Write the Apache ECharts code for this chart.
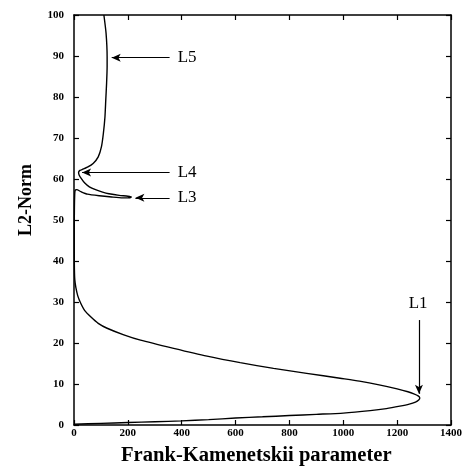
<!DOCTYPE html>
<html>
<head>
<meta charset="utf-8">
<script src="https://cdn.jsdelivr.net/npm/echarts@6/dist/echarts.min.js"></script>
<style>
  html, body { margin: 0; padding: 0; background: #fff; }
  #chart { width: 465px; height: 469px; }
</style>
</head>
<body>
<div id="chart"></div>
<script>
// Solution branch of the steady-state problem: Frank-Kamenetskii parameter vs. L2-norm
const fkParam = [
  0, 100, 200, 300, 400, 500, 600, 700, 800, 900, 1000, 1100, 1160, 1210, 1245, 1268, 1280, 1284,
  1278, 1262, 1240, 1200, 1133, 1060, 988, 864, 741, 617, 494, 370, 247, 185,
  123, 90, 62, 40, 25, 14, 7, 3, 1.5, 1, 1, 1.5, 2.5, 4,
  10, 26, 50, 94, 140, 180, 205, 213,
  200, 168, 130, 106, 80, 57, 40, 26, 19, 17,
  22, 30, 50, 71, 90, 102, 109, 115, 118, 121, 123, 123, 119, 111
];
const l2Norm = [
  0.2, 0.4, 0.6, 0.8, 1.0, 1.3, 1.7, 2.0, 2.3, 2.6, 2.9, 3.5, 4.0, 4.6, 5.1, 5.6, 6.1, 6.6,
  7.1, 7.6, 8.1, 8.8, 9.8, 10.7, 11.4, 12.6, 13.8, 15.2, 16.8, 18.7, 20.7, 22.0,
  23.6, 24.8, 26.4, 27.9, 29.7, 31.5, 33.5, 35.4, 38.0, 42.0, 48.0, 53.0, 56.0, 57.2,
  57.4, 56.9, 56.3, 55.9, 55.6, 55.4, 55.4, 55.6,
  55.8, 56.0, 56.4, 56.8, 57.4, 58.1, 59.0, 60.2, 61.0, 61.6,
  62.1, 62.3, 62.9, 63.8, 65.4, 67.9, 71.1, 75.2, 79.3, 83.3, 87.4, 89.8, 95.6, 100
];

// Turning-point annotations: label, arrow tail and arrow head (data coordinates)
const pointNames = ['L1', 'L3', 'L4', 'L5'];
const arrowTail = [[1281, 25.6], [355, 55.4], [355, 61.6], [355, 89.6]];
const arrowHead = [[1281, 7.6], [228, 55.4], [30, 61.6], [140, 89.6]];
const labelAt = [[1278, 29.6], [385, 55.4], [385, 61.6], [385, 89.6]];

const xTicks = { min: 0, max: 1400, interval: 200 };
const yTicks = { min: 0, max: 100, interval: 10 };

const serif = 'Liberation Serif';
const chart = echarts.init(document.getElementById('chart'), null, { renderer: 'canvas' });

const curve = fkParam.map((x, i) => [x, l2Norm[i]]);

const axisBase = {
  type: 'value',
  splitLine: { show: false },
  axisLine: { show: true, onZero: false, lineStyle: { color: '#000', width: 1.5 } },
  axisTick: { show: true, inside: true, length: 5, lineStyle: { color: '#000', width: 1.2 } }
};

chart.setOption({
  animation: false,
  backgroundColor: '#fff',
  grid: { left: 74, right: 13, top: 15, bottom: 44, containLabel: false },
  xAxis: [
    Object.assign({}, axisBase, xTicks, {
      position: 'bottom',
      axisLabel: { color: '#000', fontFamily: serif, fontWeight: 'bold', fontSize: 11, margin: 3,
        showMaxLabel: true, showMinLabel: true, formatter: v => String(v) }
    }),
    Object.assign({}, axisBase, xTicks, { position: 'top', axisLabel: { show: false } })
  ],
  yAxis: [
    Object.assign({}, axisBase, yTicks, {
      position: 'left',
      axisLabel: { color: '#000', fontFamily: serif, fontWeight: 'bold', fontSize: 11, margin: 10 }
    }),
    Object.assign({}, axisBase, yTicks, { position: 'right', axisLabel: { show: false } })
  ],
  series: [
    {
      type: 'line',
      data: curve,
      showSymbol: false,
      smooth: 0.2,
      lineStyle: { color: '#000', width: 1.4 },
      markLine: {
        silent: true,
        symbol: ['none', 'arrow'],
        symbolSize: [6, 9],
        label: { show: false },
        lineStyle: { color: '#000', width: 1.2, type: 'solid' },
        data: arrowTail.map((t, i) => [{ coord: t }, { coord: arrowHead[i] }])
      },
      markPoint: {
        silent: true,
        symbol: 'circle',
        symbolSize: 0,
        data: labelAt.map((c, i) => ({
          coord: c,
          label: {
            show: true,
            formatter: pointNames[i],
            position: i === 0 ? 'inside' : 'right',
            distance: 0,
            color: '#000',
            fontFamily: serif,
            fontSize: 17
          }
        }))
      }
    }
  ],
  graphic: [
    {
      type: 'text', left: 121, top: 445,
      style: { text: 'Frank-Kamenetskii parameter', font: 'bold 20.6px "Liberation Serif"', fill: '#000' }
    },
    {
      type: 'text', x: 17, y: 236, rotation: Math.PI / 2,
      style: { text: 'L2-Norm', font: 'bold 18px "Liberation Serif"', fill: '#000' }
    }
  ]
});
</script>
</body>
</html>
